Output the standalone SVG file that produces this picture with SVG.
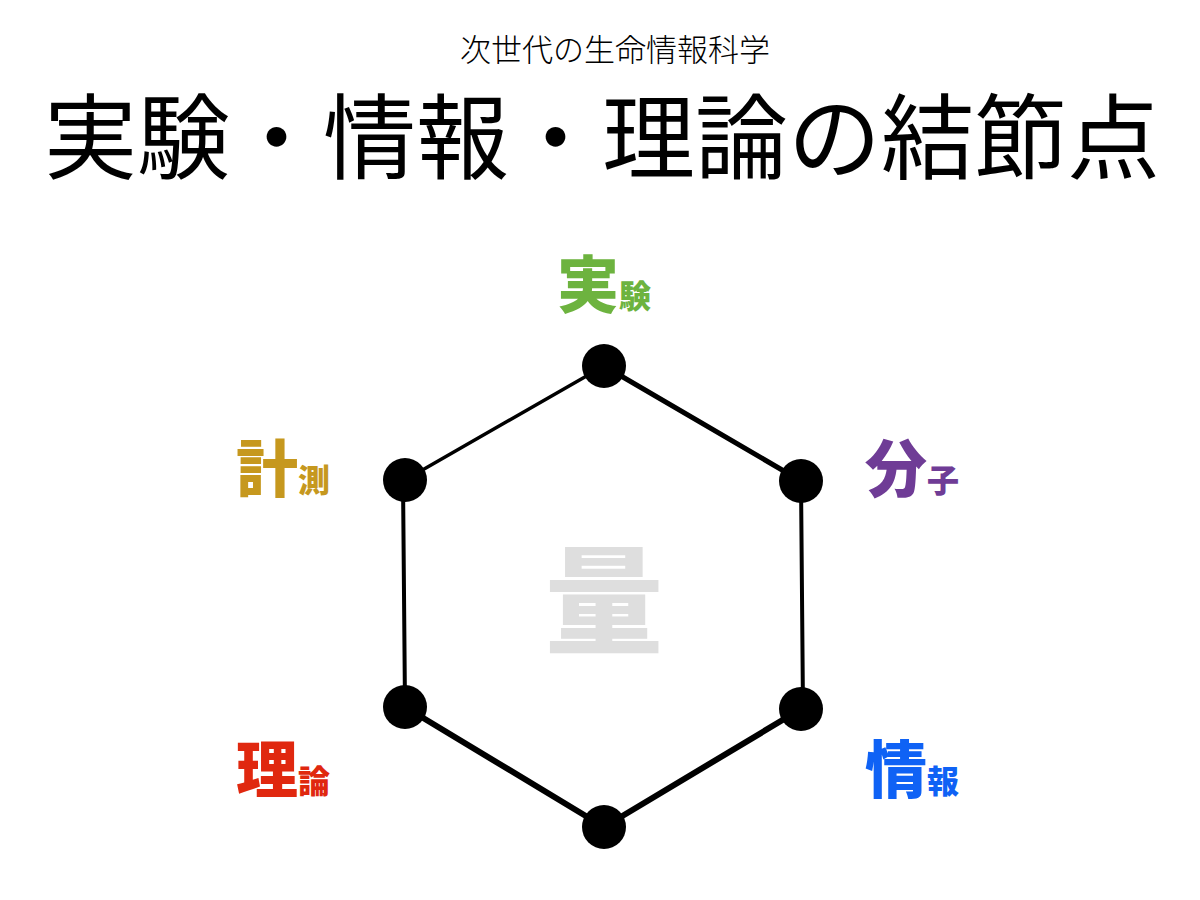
<svg xmlns="http://www.w3.org/2000/svg" width="1200" height="900" viewBox="0 0 1200 900">
<style>
.ttl{font-family:"Liberation Sans","Noto Sans CJK JP",sans-serif;fill:#000}
.lbl{font-family:"Noto Sans CJK JP","Noto Sans CJK SC",sans-serif;font-weight:900;font-size:62px}
.sm{font-size:32px}
.edge{stroke:#000;stroke-linecap:round;fill:none}
.node{fill:#000}
</style>
<rect width="1200" height="900" fill="#fff"/>
<text class="ttl" x="615" y="61" font-size="31" font-weight="300" text-anchor="middle" fill="#222">次世代の生命情報科学</text>
<text class="ttl" x="602" y="172" font-size="93" font-weight="400" text-anchor="middle">実験・情報・理論の結節点</text>
<g id="center"><text class="lbl" x="604" y="645" text-anchor="middle" fill="#dedede" style="font-size:118px">量</text></g>
<g id="connectors">
<line class="edge" x1="604" y1="366" x2="801" y2="481" stroke-width="5"/>
<line class="edge" x1="801" y1="481" x2="803" y2="709" stroke-width="4"/>
<line class="edge" x1="801" y1="709" x2="604" y2="827" stroke-width="6"/>
<line class="edge" x1="604" y1="827" x2="405" y2="707" stroke-width="6"/>
<line class="edge" x1="405" y1="707" x2="403" y2="480" stroke-width="4"/>
<line class="edge" x1="405" y1="480" x2="604" y2="366" stroke-width="3.5"/>
</g>
<g id="n-jikken"><circle class="node" cx="604" cy="366" r="22"/><text class="lbl" x="557" y="308" fill="#6db33f">実<tspan class="sm">験</tspan></text></g>
<g id="n-bunshi"><circle class="node" cx="801" cy="481" r="22"/><text class="lbl" x="865" y="492" fill="#6f3c96">分<tspan class="sm">子</tspan></text></g>
<g id="n-joho"><circle class="node" cx="801" cy="709" r="22"/><text class="lbl" x="865" y="793" fill="#0f62f5">情<tspan class="sm">報</tspan></text></g>
<g id="n-bottom"><circle class="node" cx="604" cy="827" r="22"/></g>
<g id="n-riron"><circle class="node" cx="405" cy="707" r="22"/><text class="lbl" x="236" y="793" fill="#e0280f">理<tspan class="sm">論</tspan></text></g>
<g id="n-keisoku"><circle class="node" cx="405" cy="480" r="22"/><text class="lbl" x="236" y="492" fill="#c6981e">計<tspan class="sm">測</tspan></text></g>
</svg>
